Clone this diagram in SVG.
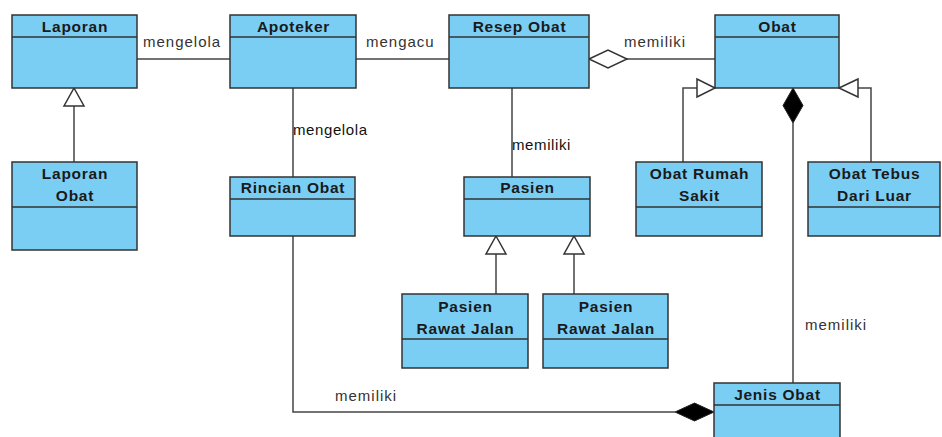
<svg xmlns="http://www.w3.org/2000/svg" width="942" height="437" viewBox="0 0 942 437">
<style>
.box{fill:#7ACEF4;stroke:#333;stroke-width:1.5}
.div{stroke:#333;stroke-width:1.5}
.name{font-family:"Liberation Sans",Arial,sans-serif;font-weight:bold;font-size:15.5px;letter-spacing:0.75px;fill:#1a1a1a;text-anchor:middle}
.lbl{font-family:"Liberation Sans",Arial,sans-serif;font-size:15px;letter-spacing:1px;fill:#333}
.lbl2{fill:#111;letter-spacing:0.6px}
.ln{fill:none;stroke:#444;stroke-width:1.5}
.tri{fill:#fff;stroke:#333;stroke-width:1.5}
.dia-o{fill:#fff;stroke:#333;stroke-width:1.5}
.dia-f{fill:#000;stroke:#222;stroke-width:1}
</style>
<g id="connectors">
<line class="ln" x1="137" y1="59" x2="230" y2="59"/>
<line class="ln" x1="356" y1="59" x2="449" y2="59"/>
<line class="ln" x1="627" y1="59" x2="715" y2="59"/>
<polygon class="dia-o" points="589,59 608,50 627,59 608,68"/>
<line class="ln" x1="74" y1="106" x2="74" y2="162"/>
<polygon class="tri" points="74,88 84,106 64,106"/>
<line class="ln" x1="293" y1="88" x2="293" y2="177"/>
<line class="ln" x1="512" y1="88" x2="512" y2="177"/>
<line class="ln" x1="496" y1="254" x2="496" y2="294"/>
<polygon class="tri" points="496,236 506,254 486,254"/>
<line class="ln" x1="574" y1="254" x2="574" y2="294"/>
<polygon class="tri" points="574,236 584,254 564,254"/>
<polyline class="ln" points="683,162 683,88 697,88"/>
<polygon class="tri" points="715,88 697,79 697,97"/>
<polyline class="ln" points="871,162 871,88 858,88"/>
<polygon class="tri" points="839,88 858,79 858,97"/>
<line class="ln" x1="793" y1="123" x2="793" y2="383"/>
<polygon class="dia-f" points="793,88 803,105.5 793,123 783,105.5"/>
<polyline class="ln" points="293,236 293,412 675,412"/>
<polygon class="dia-f" points="714,412 694.5,403 675,412 694.5,421"/>
<text class="lbl" x="143" y="47">mengelola</text>
<text class="lbl" x="366" y="47">mengacu</text>
<text class="lbl" x="624" y="47">memiliki</text>
<text class="lbl lbl2" x="293" y="135">mengelola</text>
<text class="lbl lbl2" x="512" y="150">memiliki</text>
<text class="lbl" x="805" y="330">memiliki</text>
<text class="lbl" x="335" y="401">memiliki</text>
</g>
<g id="laporan">
<rect class="box" x="12" y="15" width="125" height="73"/>
<line class="div" x1="12" y1="37" x2="137" y2="37"/>
<text class="name" x="75" y="32">Laporan</text>
</g>
<g id="apoteker">
<rect class="box" x="230" y="15" width="126" height="73"/>
<line class="div" x1="230" y1="37" x2="356" y2="37"/>
<text class="name" x="293.5" y="32">Apoteker</text>
</g>
<g id="resep-obat">
<rect class="box" x="449" y="15" width="140" height="73"/>
<line class="div" x1="449" y1="37" x2="589" y2="37"/>
<text class="name" x="519.5" y="32">Resep Obat</text>
</g>
<g id="obat">
<rect class="box" x="715" y="15" width="124" height="73"/>
<line class="div" x1="715" y1="37" x2="839" y2="37"/>
<text class="name" x="777.5" y="32">Obat</text>
</g>
<g id="laporan-obat">
<rect class="box" x="12" y="162" width="125" height="88"/>
<line class="div" x1="12" y1="207" x2="137" y2="207"/>
<text class="name" x="75" y="179">Laporan</text>
<text class="name" x="75" y="201">Obat</text>
</g>
<g id="rincian-obat">
<rect class="box" x="230" y="177" width="125" height="59"/>
<line class="div" x1="230" y1="199" x2="355" y2="199"/>
<text class="name" x="293" y="193">Rincian Obat</text>
</g>
<g id="pasien">
<rect class="box" x="464" y="177" width="126" height="59"/>
<line class="div" x1="464" y1="199" x2="590" y2="199"/>
<text class="name" x="527.5" y="193">Pasien</text>
</g>
<g id="obat-rumah-sakit">
<rect class="box" x="636" y="162" width="126" height="74"/>
<line class="div" x1="636" y1="207" x2="762" y2="207"/>
<text class="name" x="699.5" y="179">Obat Rumah</text>
<text class="name" x="699.5" y="201">Sakit</text>
</g>
<g id="obat-tebus-dari-luar">
<rect class="box" x="808" y="162" width="132" height="74"/>
<line class="div" x1="808" y1="207" x2="940" y2="207"/>
<text class="name" x="874.5" y="179">Obat Tebus</text>
<text class="name" x="874.5" y="201">Dari Luar</text>
</g>
<g id="pasien-rawat-jalan-1">
<rect class="box" x="402" y="294" width="126" height="74"/>
<line class="div" x1="402" y1="339" x2="528" y2="339"/>
<text class="name" x="465.5" y="312">Pasien</text>
<text class="name" x="465.5" y="334">Rawat Jalan</text>
</g>
<g id="pasien-rawat-jalan-2">
<rect class="box" x="543" y="294" width="125" height="74"/>
<line class="div" x1="543" y1="339" x2="668" y2="339"/>
<text class="name" x="606" y="312">Pasien</text>
<text class="name" x="606" y="334">Rawat Jalan</text>
</g>
<g id="jenis-obat">
<rect class="box" x="714" y="383" width="126" height="70"/>
<line class="div" x1="714" y1="405" x2="840" y2="405"/>
<text class="name" x="777.5" y="400">Jenis Obat</text>
</g>
</svg>
